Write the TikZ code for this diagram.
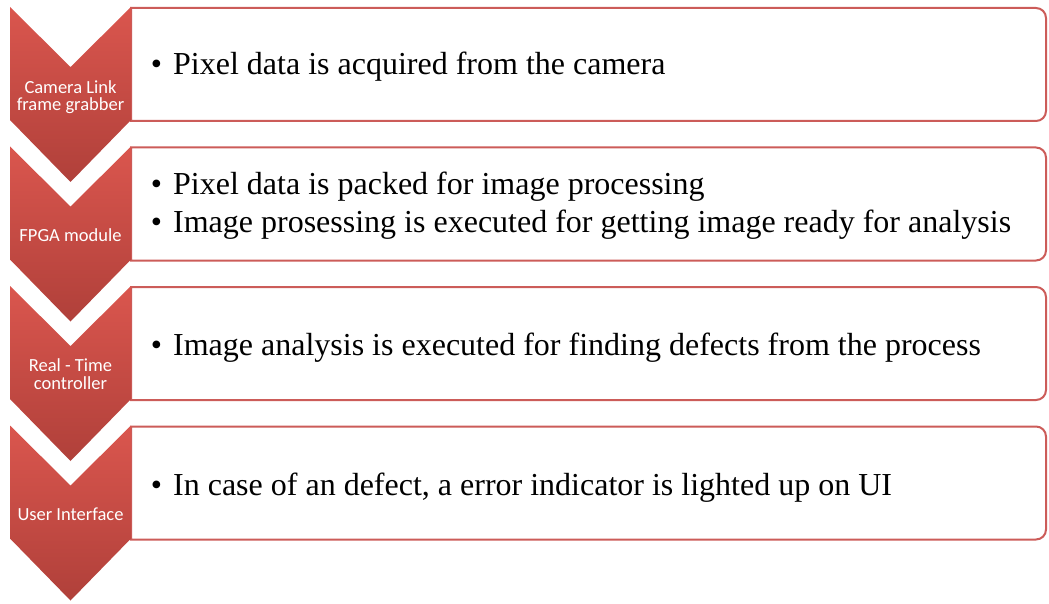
\documentclass[tikz,border=0pt]{standalone}
\usepackage{fontspec}
\setmainfont{Liberation Serif}
\newfontfamily\bodyfont{Liberation Serif}
\newfontfamily\chevfont{Carlito}
\definecolor{chevtop}{RGB}{218,86,78}
\definecolor{chevbot}{RGB}{176,64,58}
\definecolor{boxline}{RGB}{204,92,89}
\tikzset{
  chevlabel/.style={text=white, font=\chevfont\fontsize{18.5}{17.5}\selectfont, align=center, inner sep=0pt},
  itemtext/.style={anchor=base west, font=\bodyfont\fontsize{32}{39}\selectfont, inner sep=0pt},
  itembox/.style={draw=boxline, line width=2pt, fill=white},
}
\newcommand{\bul}{\llap{\textbullet\hspace{11pt}}}
\begin{document}
\begin{tikzpicture}[x=1pt,y=-1pt]
\useasboundingbox (0,0) rectangle (1049,604);
\foreach \t/\n in {7/1,146.5/2,286/3,425.5/4}{
  \coordinate (bx\n) at (131,\t+1);
  \draw[itembox, rounded corners=10pt] (131,\t+1) -- (1046,\t+1) -- (1046,\t+114) [sharp corners] -- (131,\t+114) -- cycle;
  \shade[top color=chevtop, bottom color=chevbot]
    (10,\t) -- (70.5,\t+60) -- (131,\t) -- (131,\t+113) -- (70.5,\t+175) -- (10,\t+113) -- cycle;
}
\node[chevlabel] (c1) at (70.5,97) {Camera Link\\frame grabber};
\node[chevlabel] (c2) at (70.5,235) {FPGA module};
\node[chevlabel] (c3) at (70.5,374) {Real - Time\\controller};
\node[chevlabel] (c4) at (70.5,514) {User Interface};
\node[itemtext] (t1) at (173,75) {\bul Pixel data is acquired from the camera};
\node[itemtext] (t2a) at (173,195) {\bul Pixel data is packed for image processing};
\node[itemtext] (t2b) at (173,233) {\bul Image prosessing is executed for getting image ready for analysis};
\node[itemtext] (t3) at (173,355) {\bul Image analysis is executed for finding defects from the process};
\node[itemtext] (t4) at (173,495) {\bul In case of an defect, a error indicator is lighted up on UI};
\end{tikzpicture}
\end{document}
